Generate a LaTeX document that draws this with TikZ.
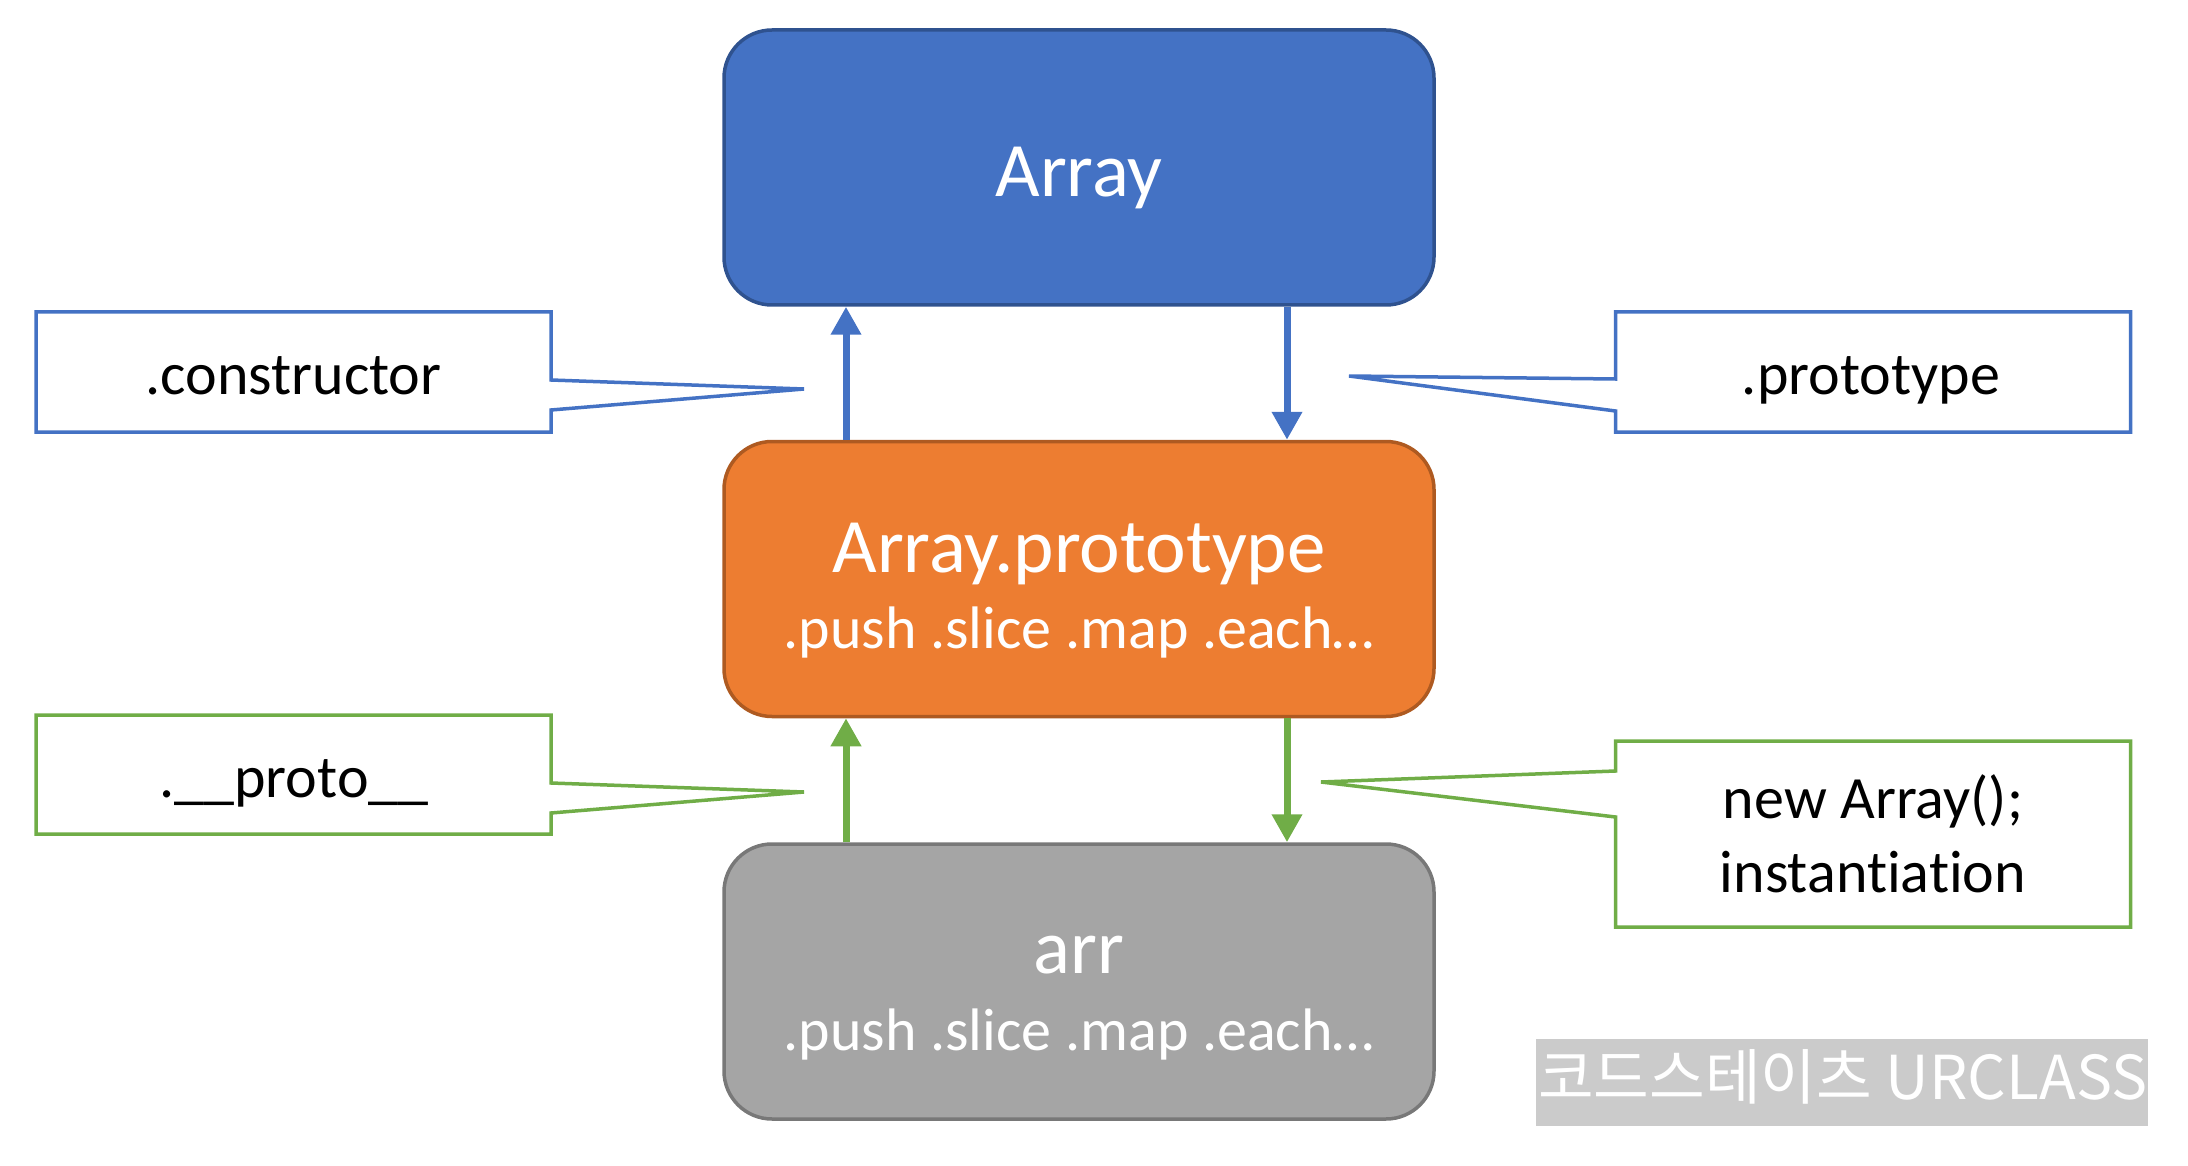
\documentclass[tikz,border=0pt]{standalone}
\usepackage{fontspec}
\setmainfont[Ligatures=NoCommon]{Carlito}
\newfontfamily\krfont{Noto Sans CJK KR}
\usetikzlibrary{arrows.meta}
\definecolor{blueF}{HTML}{4472C4}
\definecolor{blueD}{HTML}{2F528F}
\definecolor{orangeF}{HTML}{ED7D31}
\definecolor{orangeD}{HTML}{AE5A21}
\definecolor{grayF}{HTML}{A5A5A5}
\definecolor{grayD}{HTML}{787878}
\definecolor{greenC}{HTML}{70AD47}
\definecolor{wmgray}{HTML}{CBCBCB}
\begin{document}
\begin{tikzpicture}[x=1pt,y=-1pt,
  bigbox/.style={rounded corners=48pt, minimum width=710pt, minimum height=275pt, line width=3.5pt, inner sep=0pt},
  calbox/.style={draw=none, minimum width=515pt, inner sep=0pt, outer sep=0pt},
  bigtxt/.style={text=white, font=\fontsize{77}{80}\selectfont, anchor=base, inner sep=0pt},
  subtxt/.style={text=white, font=\fontsize{60}{64}\selectfont, anchor=base, inner sep=0pt},
  caltxt/.style={text=black, font=\fontsize{60}{64}\selectfont, anchor=base, inner sep=0pt},
  conn/.style={line width=7pt, -{Triangle[length=28pt,width=29pt]}},
  calline/.style={line width=3.5pt, fill=white, line join=miter}
]
\useasboundingbox (0,0) rectangle (2188,1166);

% main boxes
\node[bigbox, fill=blueF, draw=blueD] (array) at (1079,167.5) {};
\node[bigbox, fill=orangeF, draw=orangeD] (protobox) at (1079,579) {};
\node[bigbox, fill=grayF, draw=grayD] (arr) at (1079,981.5) {};

\node[bigtxt] (tArray) at (1079,197) {Array};
\node[bigtxt] (tProto) at (1079,572) {Array.prototype};
\node[subtxt] (tProtoM) at (1079,648) {.push .slice .map .each…};
\node[bigtxt] (tArr) at (1079,973) {arr};
\node[subtxt] (tArrM) at (1079,1050) {.push .slice .map .each…};

% connector columns
\coordinate (xL) at (846,0);
\coordinate (xR) at (1287,0);

\draw[conn, blueF] (protobox.north -| xL) -- (array.south -| xL);
\draw[conn, blueF] (array.south -| xR) -- (protobox.north -| xR);
\draw[conn, greenC] (arr.north -| xL) -- (protobox.south -| xL);
\draw[conn, greenC] (protobox.south -| xR) -- (arr.north -| xR);

% callouts
\node[calbox, minimum height=120pt] (cons) at (293.5,372) {};
\coordinate (cb1) at (0,380);
\coordinate (cb2) at (0,410);
\coordinate (ctip) at (804,389);
\draw[calline, draw=blueF] (cons.north west) -- (cons.north east) -- (cons.east |- cb1) -- (ctip) -- (cons.east |- cb2) -- (cons.south east) -- (cons.south west) -- cycle;
\node[caltxt] (tcons) at (293.5,395) {.constructor};

\node[calbox, minimum height=120pt] (ptype) at (1873,372) {};
\coordinate (pb1) at (0,379);
\coordinate (pb2) at (0,411);
\coordinate (ptip) at (1349,376);
\draw[calline, draw=blueF] (ptype.north east) -- (ptype.north west) -- (ptype.west |- pb1) -- (ptip) -- (ptype.west |- pb2) -- (ptype.south west) -- (ptype.south east) -- cycle;
\node[caltxt] (tptype) at (1871,395) {.prototype};

\node[calbox, minimum height=119pt] (proto) at (293.5,774.5) {};
\coordinate (rb1) at (0,783);
\coordinate (rb2) at (0,813);
\coordinate (rtip) at (804,792);
\draw[calline, draw=greenC] (proto.north west) -- (proto.north east) -- (proto.east |- rb1) -- (rtip) -- (proto.east |- rb2) -- (proto.south east) -- (proto.south west) -- cycle;
\node[caltxt] (tproto) at (294,797) {.\_\_proto\_\_};

\node[calbox, minimum height=186pt] (newarr) at (1873,834) {};
\coordinate (nb1) at (0,771);
\coordinate (nb2) at (0,817);
\coordinate (ntip) at (1321,782);
\draw[calline, draw=greenC] (newarr.north east) -- (newarr.north west) -- (newarr.west |- nb1) -- (ntip) -- (newarr.west |- nb2) -- (newarr.south west) -- (newarr.south east) -- cycle;
\node[caltxt] (tnew1) at (1873,818) {new Array();};
\node[caltxt] (tnew2) at (1873,892) {instantiation};

% watermark
\node[fill=wmgray, draw=none, minimum width=612pt, minimum height=87pt, inner sep=0pt] (wm) at (1842,1082.5) {};
\node[text=white, font=\krfont\fontsize{60.5}{62}\selectfont, anchor=base west, inner sep=0pt] (wmtext) at (1538,1099) {코드스테이츠 URCLASS};
\end{tikzpicture}
\end{document}
